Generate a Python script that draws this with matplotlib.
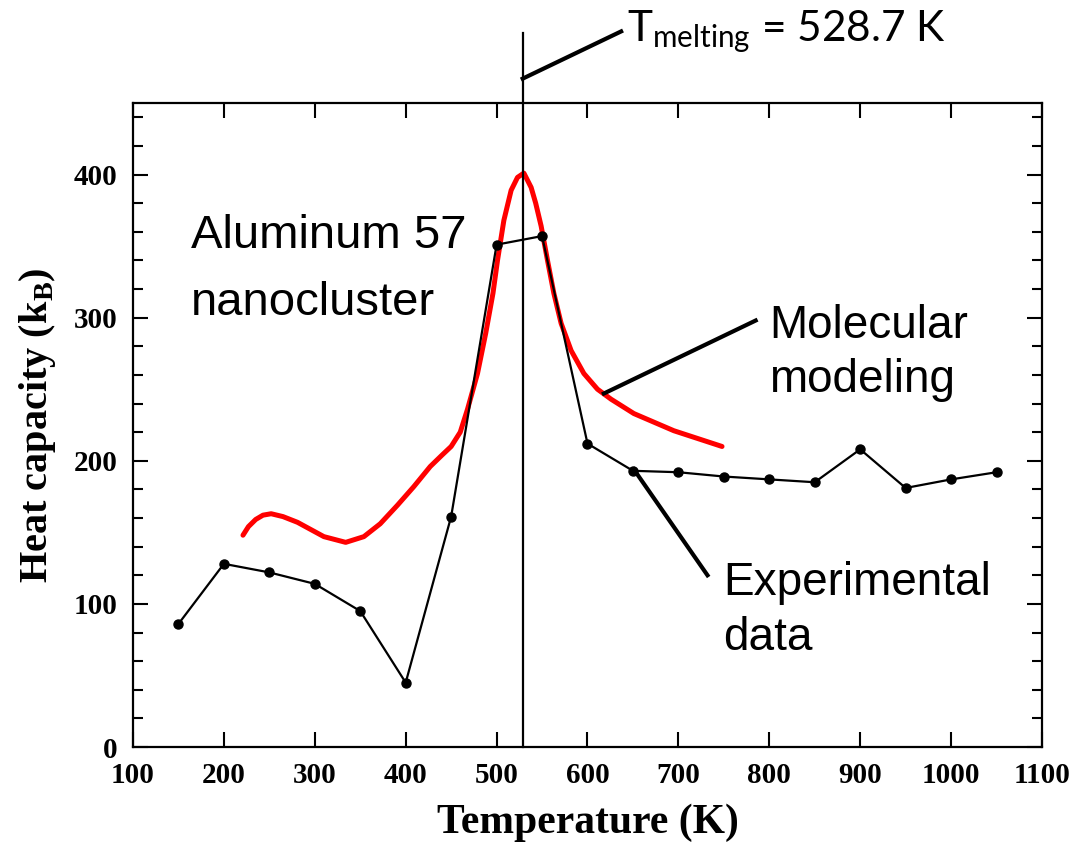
import matplotlib
matplotlib.use("Agg")
import matplotlib.pyplot as plt
from matplotlib.ticker import MultipleLocator

# experimental heat capacity (kB) vs temperature (K)
exp_temp = [150, 200, 250, 300, 350, 400, 450, 500, 550, 600,
            650, 700, 750, 800, 850, 900, 950, 1000, 1050]
exp_cap = [86, 128, 122, 114, 95, 45, 161, 351, 357, 212,
           193, 192, 189, 187, 185, 208, 181, 187, 192]

# molecular modeling curve
mod_temp = [221, 227, 235, 243, 252, 265, 281, 310, 334, 354, 372, 391,
            409, 427, 440, 450, 460, 468, 479, 488, 496, 501, 508, 516,
            523, 530, 538, 543, 549, 556, 563, 571, 582, 596, 611, 626,
            651, 695, 748]
mod_cap = [148, 154, 159, 162, 163, 161, 157, 147, 143, 147, 156, 169,
           182, 196, 204, 210, 220, 236, 261, 289, 317, 340, 368, 389,
           398, 401, 391, 380, 364, 340, 317, 296, 277, 261, 250, 243,
           233, 221, 210]

t_melt = 528.7
x_ticks = [100, 200, 300, 400, 500, 600, 700, 800, 900, 1000, 1100]
y_ticks = [0, 100, 200, 300, 400]

serif = "Liberation Serif"
sans = "Liberation Sans"

fig = plt.figure(figsize=(10.76, 8.42), dpi=100)
ax = fig.add_axes([0.1236, 0.1128, 0.8448, 0.7649])

ax.plot(mod_temp, mod_cap, color="#ff0000", lw=3.6, solid_capstyle="round",
        solid_joinstyle="round")
ax.plot(exp_temp, exp_cap, color="black", lw=1.6, marker="o", ms=6.5)

# melting line, runs above the frame
ax.plot([t_melt, t_melt], [0, 499], color="black", lw=1.6, clip_on=False)

# pointer lines
ax.plot([t_melt, 637], [467, 500], color="black", lw=3, clip_on=False)
ax.plot([618, 785], [247, 298], color="black", lw=3)
ax.plot([651, 732], [194, 120], color="black", lw=3)

ax.text(643, 493, r"T$_{\mathregular{melting}}$ = 528.7 K", family="Lato",
        fontsize=30.5, ha="left", va="baseline", clip_on=False)
ax.text(164, 349, "Aluminum 57", family=sans, fontsize=34, va="baseline")
ax.text(164, 302, "nanocluster", family=sans, fontsize=34, va="baseline")
ax.text(800, 286, "Molecular", family=sans, fontsize=33, va="baseline")
ax.text(800, 248, "modeling", family=sans, fontsize=33, va="baseline")
ax.text(749, 106, "Experimental", family=sans, fontsize=33, va="baseline")
ax.text(749, 68, "data", family=sans, fontsize=33, va="baseline")

ax.set_xlim(100, 1100)
ax.set_ylim(0, 450)
ax.set_xticks(x_ticks)
ax.set_yticks(y_ticks)
ax.yaxis.set_minor_locator(MultipleLocator(20))
ax.tick_params(which="both", direction="in", top=True, right=True, width=1.5)
ax.tick_params(which="major", length=11, pad=11)
ax.tick_params(which="minor", length=7)
for lab in ax.get_xticklabels() + ax.get_yticklabels():
    lab.set_family(serif)
    lab.set_fontweight("bold")
    lab.set_fontsize(21)
for sp in ax.spines.values():
    sp.set_linewidth(1.6)

ax.set_xlabel("Temperature (K)", family=serif, fontweight="bold", fontsize=30)
ax.set_ylabel(r"Heat capacity (k$_{\mathregular{B}}$)", family=serif,
              fontweight="bold", fontsize=29)
ax.xaxis.set_label_coords(0.5, -0.088)
ax.yaxis.set_label_coords(-0.083, 0.5)

fig.savefig("out.png", dpi=100)
